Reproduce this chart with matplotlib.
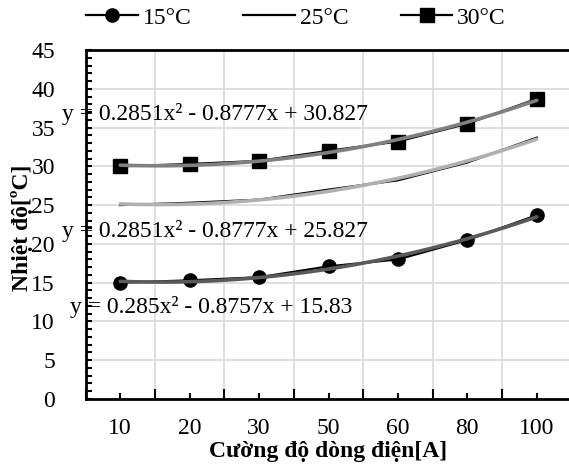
import numpy as np
import matplotlib
matplotlib.use("Agg")
import matplotlib.pyplot as plt
from matplotlib.ticker import MultipleLocator, FixedLocator

plt.rcParams['font.family'] = ['Liberation Serif', 'DejaVu Serif']

categories = ['10', '20', '30', '50', '60', '80', '100']
t15 = [15.0, 15.3, 15.7, 17.1, 18.0, 20.5, 23.7]
t25 = [25.0, 25.3, 25.7, 27.0, 28.2, 30.5, 33.7]
t30 = [30.0, 30.3, 30.7, 32.0, 33.2, 35.5, 38.7]

eq15 = 'y = 0.285x² - 0.8757x + 15.83'
eq25 = 'y = 0.2851x² - 0.8777x + 25.827'
eq30 = 'y = 0.2851x² - 0.8777x + 30.827'

W, H = 569, 468
fig = plt.figure(figsize=(W / 100, H / 100), dpi=100)
ax = fig.add_axes([85.5 / W, 1 - 399 / H, 486 / W, 349 / H])

pos = np.arange(len(categories))
xs = np.linspace(0, len(categories) - 1, 200)

l15, = ax.plot(pos, t15, color='black', lw=1.6, marker='o', ms=9.5, zorder=3, label='15°C')
l25, = ax.plot(pos, t25, color='black', lw=1.6, zorder=3, label='25°C')
l30, = ax.plot(pos, t30, color='black', lw=1.6, marker='s', ms=10, zorder=3, label='30°C')

# polynomial trendlines (order 2), like Excel
for vals, col in [(t15, '#5a5a5a'), (t25, '#b0b0b0'), (t30, '#808080')]:
    c = np.polyfit(pos + 1, vals, 2)
    ax.plot(xs, np.polyval(c, xs + 1), color=col, lw=2.6, zorder=4, solid_capstyle='round')

ax.set_xlim(-0.5, len(categories) - 0.5)
ax.set_ylim(0, 45)
ax.set_xticks(pos)
ax.set_xticklabels(categories)
ax.xaxis.set_minor_locator(FixedLocator(np.arange(-0.5, len(categories), 1)))
ax.yaxis.set_major_locator(MultipleLocator(5))
ax.yaxis.set_minor_locator(MultipleLocator(1))

ax.tick_params(axis='x', which='major', direction='in', length=4, width=1.5, labelsize=17, pad=14)
ax.tick_params(axis='x', which='minor', direction='in', length=7, width=1.5)
ax.tick_params(axis='y', which='both', direction='in', length=4, width=1.5, labelsize=17, pad=22)

ax.grid(axis='x', which='minor', color='#d9d9d9', lw=1.2)
ax.grid(axis='y', which='major', color='#d9d9d9', lw=1.2)
ax.set_axisbelow(True)
for s in ax.spines.values():
    s.set_linewidth(2)

ax.set_xlabel('Cường độ dòng điện[A]', fontsize=17, fontweight='bold', labelpad=1)
fig.text(22 / W, 1 - 228 / H, 'Nhiệt độ[ºC]', rotation=90, ha='center', va='center',
         fontsize=17, fontweight='bold')

fig.text(62 / W, 1 - 114 / H, eq30, fontsize=17, ha='left', va='center')
fig.text(62 / W, 1 - 231 / H, eq25, fontsize=17, ha='left', va='center')
fig.text(70 / W, 1 - 307 / H, eq15, fontsize=17, ha='left', va='center')

fig.legend(handles=[l15, l25, l30], loc='center', bbox_to_anchor=(0.52, 1 - 18 / H), ncol=3,
           frameon=False, fontsize=17, handlelength=2.2, handletextpad=0.2, columnspacing=2.2)

fig.savefig('out.png', dpi=100)
